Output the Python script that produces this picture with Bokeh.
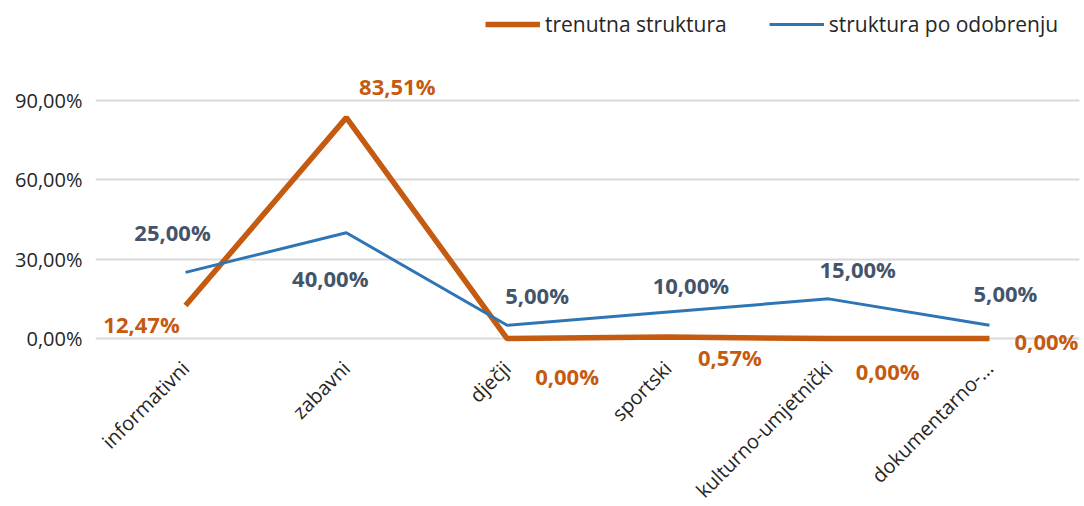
from bokeh.plotting import figure
from bokeh.models import (ColumnDataSource, FactorRange, Range1d, FixedTicker,
                          Legend, LegendItem, LabelSet, CustomJSTickFormatter)
from bokeh.core.properties import value
from bokeh.embed import file_html
from bokeh.resources import INLINE
import math

categories = ["informativni", "zabavni", "dječji", "sportski", "kulturno-umjetnički", "dokumentarno-..."]
trenutna = [12.47, 83.51, 0.00, 0.57, 0.00, 0.00]
odobrenje = [25.00, 40.00, 5.00, 10.00, 15.00, 5.00]
y_ticks = [0, 30, 60, 90]

ORANGE = "#C55A11"
BLUE = "#2E75B6"
BLUE_TXT = "#44546A"
FONT = "Open Sans"
BFONT = "Open Sans"

def fmt(v):
    return ("%.2f" % v).replace(".", ",") + "%"

src = ColumnDataSource(dict(
    x=categories,
    t=trenutna,
    o=odobrenje,
    tl=[fmt(v) for v in trenutna],
    ol=[fmt(v) for v in odobrenje],
    # label offsets (styling)
    tx=[-44, 51, 60, 62, 59, 57],
    ty=[-18, 32, -37, -20, -32, -2],
    ox=[-13, -16, 30, 23, 29, 16],
    oy=[40, -45, 30, 27, 30, 32],
))

p = figure(width=1084, height=506,
           x_range=FactorRange(*categories, range_padding=0.06, range_padding_units="absolute"),
           y_range=Range1d(-63.5, 127.8), output_backend="svg", toolbar_location=None,
           min_border_left=95, min_border_right=5, min_border_top=0, min_border_bottom=0)
p.outline_line_color = None
p.background_fill_color = "white"
p.border_fill_color = "white"

r1 = p.line("x", "t", source=src, line_color=ORANGE, line_width=5.5)
r2 = p.line("x", "o", source=src, line_color=BLUE, line_width=3)

p.yaxis.ticker = FixedTicker(ticks=y_ticks)
p.yaxis.formatter = CustomJSTickFormatter(code="return tick.toFixed(2).replace('.', ',') + '%';")
p.ygrid.ticker = FixedTicker(ticks=y_ticks)
p.ygrid.grid_line_color = "#D9D9D9"
p.ygrid.grid_line_width = 2
p.ygrid.level = "underlay"
p.xgrid.grid_line_color = None

for ax in (p.xaxis, p.yaxis):
    ax.axis_line_color = None
    ax.major_tick_line_color = None
    ax.minor_tick_line_color = None
    ax.major_label_text_font = FONT
    ax.major_label_text_font_size = "20px"
    ax.major_label_text_color = "#262626"
p.yaxis.major_label_standoff = 7
p.xaxis.fixed_location = 0
p.xaxis.major_label_orientation = math.pi / 4
p.xaxis.major_label_text_font_size = "20px"
p.xaxis.major_label_standoff = 20

lt = LabelSet(x="x", y="t", text="tl", source=src, x_offset="tx", y_offset="ty",
              text_align="center", text_baseline="middle", text_color=ORANGE,
              text_font=value(BFONT), text_font_size="22px", text_font_style="bold")
lo = LabelSet(x="x", y="o", text="ol", source=src, x_offset="ox", y_offset="oy",
              text_align="center", text_baseline="middle", text_color=BLUE_TXT,
              text_font=value(BFONT), text_font_size="22px", text_font_style="bold")
p.add_layout(lt)
p.add_layout(lo)

legend = Legend(items=[LegendItem(label="trenutna struktura", renderers=[r1]),
                       LegendItem(label="struktura po odobrenju", renderers=[r2])],
                orientation="horizontal", location=(390, 468),
                glyph_width=55, label_standoff=5, spacing=42,
                label_text_font=FONT, label_text_font_size="21px",
                label_text_color="#262626", border_line_color=None,
                background_fill_alpha=0, padding=0, margin=0)
p.add_layout(legend)

open("out.html", "w").write(file_html(p, INLINE))
